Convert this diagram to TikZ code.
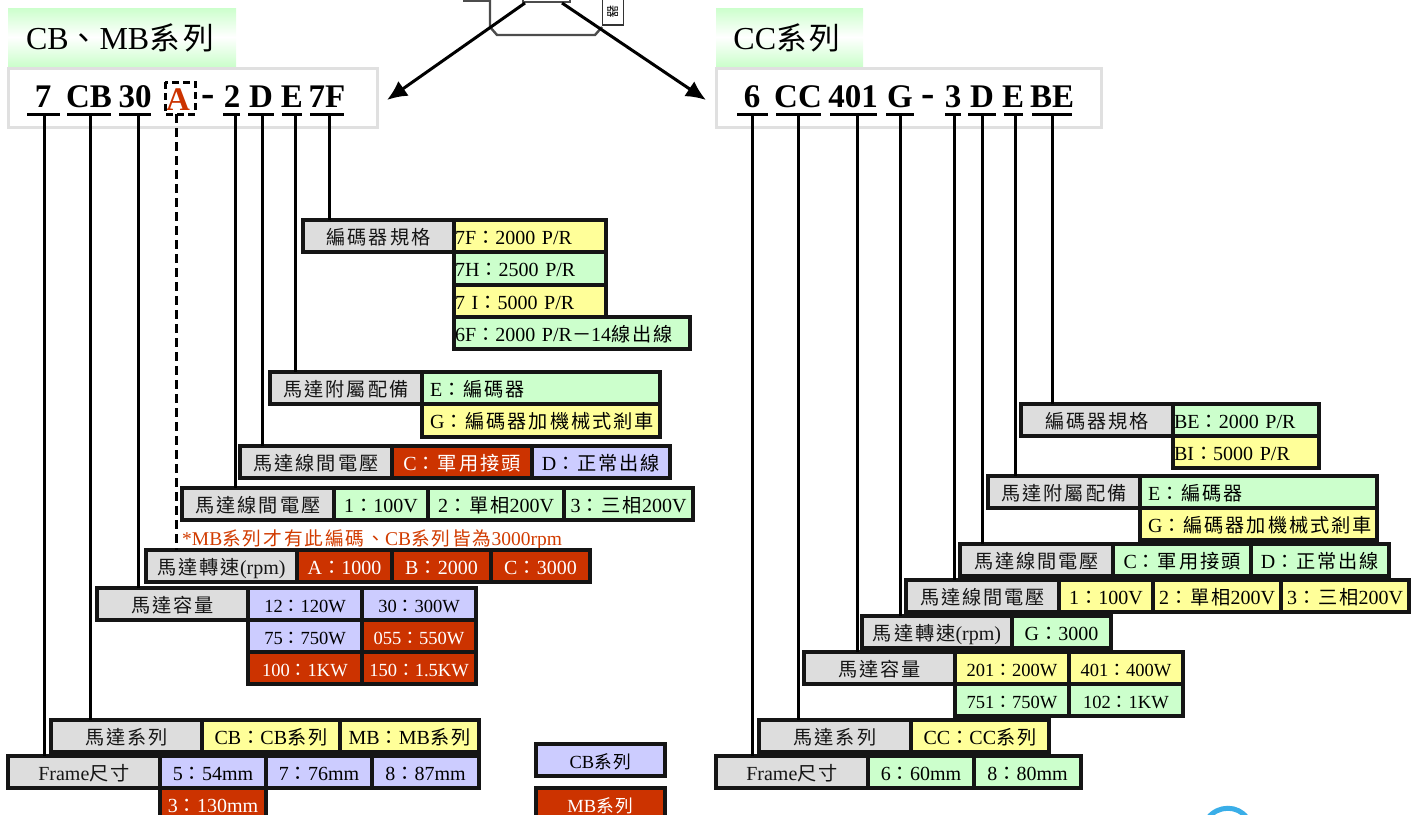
\documentclass[tikz,border=0pt]{standalone}
\usepackage{fontspec}
\setmainfont{Liberation Serif}
\newfontfamily\cjk[LetterSpace=10,Scale=0.96]{Noto Sans CJK TC}
\newcommand{\C}[1]{{\cjk #1}}
\usetikzlibrary{arrows.meta,calc}
\definecolor{gy}{HTML}{DDDDDD}
\definecolor{yw}{HTML}{FFFF99}
\definecolor{gn}{HTML}{CCFFCC}
\definecolor{lv}{HTML}{CCCCFF}
\definecolor{rd}{HTML}{CC3300}
\definecolor{fr}{HTML}{E0E0E0}
\definecolor{ink}{HTML}{151515}
\tikzset{
  cell/.style={draw=ink,line width=3.2pt,inner sep=0pt,outer sep=0pt,font=\fontsize{20}{22}\selectfont,text=black},
  key/.style={cell,fill=gy,text=ink},
  ycell/.style={cell,fill=yw},
  gcell/.style={cell,fill=gn},
  lcell/.style={cell,fill=lv},
  rcell/.style={cell,fill=rd,text=white},
  small/.style={font=\fontsize{18.5}{20}\selectfont},
  lft/.style={text width=\bw pt-#1pt*2,align=left},
  title/.style={inner sep=0pt,outer sep=0pt,font=\fontsize{32}{34}\selectfont,text=black},
  frameb/.style={draw=fr,line width=3pt,fill=white},
  hd/.style={inner sep=0pt,font=\fontsize{33}{36}\bfseries\selectfont},
  dashch/.style={inner sep=0pt,font=\fontsize{40}{40}\bfseries\selectfont},
  conn/.style={line width=3pt,black},
  dconn/.style={line width=3pt,black,dash pattern=on 9pt off 5pt},
  arrowl/.style={line width=3pt,black,-{Latex[length=20pt,width=18pt]}},
  motor/.style={draw=black!70,line width=2.4pt},
  note/.style={inner sep=0pt,anchor=west,text=rd!90!orange,font=\fontsize{19.5}{21}\selectfont},
}
% \bx[style]{name}{x0}{y0}{x1}{y1}{text}
\newcommand{\bx}[7][]{%
  \pgfmathsetmacro{\bw}{#5-#3}\pgfmathsetmacro{\bh}{#6-#4}%
  \node[#1,minimum width=\bw pt,minimum height=\bh pt] (#2) at ({(#3+#5)/2},{(#4+#6)/2}) {\raisebox{-8pt}[0pt][0pt]{#7}};}
\begin{document}
\begin{tikzpicture}[x=1pt,y=-1pt]
\useasboundingbox (0,0) rectangle (1423,814);
\clip (0,0) rectangle (1423,814);
% motor fragment at the top
\draw[motor] (490,0) -- (490,27) -- (497,35) -- (595,35) -- (602,27);
\draw[motor,fill=white] (464,-5) rectangle (490,1);
\draw[motor,fill=white] (523,-5) rectangle (570,2);
\node[draw=black!80,line width=1.8pt,fill=white,minimum width=21pt,minimum height=34pt,inner sep=0pt] (mbox) at (613,8) {\raisebox{-8pt}{\rotatebox{-90}{\fontsize{13}{13}\selectfont\C{器}}}};
\coordinate (as) at (525,3);\coordinate (al) at (387,100);
\coordinate (bs) at (562,3);\coordinate (bl) at (706,100);
\draw[arrowl] (as) -- (al);
\draw[arrowl] (bs) -- (bl);
% left titles
\shade[top color=gn,bottom color=gn,middle color=white] (8,8) rectangle (236,66);
\node[title] (t1) at (120,38) {CB\C{、}MB\C{系列}};
\shade[top color=gn,bottom color=gn,middle color=white] (716,8) rectangle (863,66);
\node[title] (t2) at (787,38) {CC\C{系列}};
\draw[frameb] (8,68) rectangle (377,127);
\draw[frameb] (716,68) rectangle (1101,127);
% left code letters
\node[hd] (h1) at (43,97) {7};
\node[hd] (h2) at (89,97) {CB};
\node[hd] (h3) at (135,97) {30};
\node[hd,text=rd] (h4) at (178,100) {A};
\node[dashch] (h5) at (208,101) {-};
\node[hd] (h6) at (232,97) {2};
\node[hd] (h7) at (261,97) {D};
\node[hd] (h8) at (292,97) {E};
\node[hd] (h9) at (327,97) {7F};
% right code letters
\node[hd] (r1) at (752,97) {6};
\node[hd] (r2) at (798,97) {CC};
\node[hd] (r3) at (853,97) {401};
\node[hd] (r4) at (900,97) {G};
\node[dashch] (r5) at (928,101) {-};
\node[hd] (r6) at (953,97) {3};
\node[hd] (r7) at (982,97) {D};
\node[hd] (r8) at (1013,97) {E};
\node[hd] (r9) at (1052,97) {BE};
% left cells
\bx[key]{a1}{303}{220}{454}{252}{\C{編碼器規格}}
\bx[ycell,lft=1]{a2}{454}{220}{606}{252}{7F\C{：}2000 P/R}
\bx[gcell,lft=1]{a3}{454}{252}{606}{285}{7H\C{：}2500 P/R}
\bx[ycell,lft=1]{a4}{454}{285}{606}{317}{7 I\C{：}5000 P/R}
\bx[gcell,lft=1]{a5}{454}{317}{690}{349}{6F\C{：}2000 P/R\C{－}14\C{線出線}}
\bx[key]{b1}{270}{372}{422}{404}{\C{馬達附屬配備}}
\bx[gcell,lft=8]{b2}{422}{372}{660}{404}{E\C{：編碼器}}
\bx[ycell,lft=8]{b3}{422}{404}{660}{437}{G\C{：編碼器加機械式剎車}}
\bx[key]{c1}{240}{446}{392}{478}{\C{馬達線間電壓}}
\bx[rcell]{c2}{392}{446}{532}{478}{C\C{：軍用接頭}}
\bx[lcell]{c3}{532}{446}{670}{478}{D\C{：正常出線}}
\bx[key]{d1}{182}{488}{334}{520}{\C{馬達線間電壓}}
\bx[gcell]{d2}{334}{488}{428}{520}{1\C{：}100V}
\bx[gcell]{d3}{428}{488}{564}{520}{2\C{：單相}200V}
\bx[gcell]{d4}{564}{488}{693}{520}{3\C{：三相}200V}
\node[note] (nt) at (182,540) {*MB\C{系列才有此編碼、}CB\C{系列皆為}3000rpm};
\bx[key]{e1}{146}{550}{297}{582}{\C{馬達轉速}(rpm)}
\bx[rcell]{e2}{297}{550}{392}{582}{A\C{：}1000}
\bx[rcell]{e3}{392}{550}{491}{582}{B\C{：}2000}
\bx[rcell]{e4}{491}{550}{590}{582}{C\C{：}3000}
\bx[key]{f1}{97}{588}{248}{620}{\C{馬達容量}}
\bx[lcell,small]{f2}{248}{588}{362}{620}{12\C{：}120W}
\bx[lcell,small]{f3}{362}{588}{476}{620}{30\C{：}300W}
\bx[lcell,small]{f4}{248}{620}{362}{652}{75\C{：}750W}
\bx[rcell,small]{f5}{362}{620}{476}{652}{055\C{：}550W}
\bx[rcell,small]{f6}{248}{652}{362}{684}{100\C{：}1KW}
\bx[rcell,small]{f7}{362}{652}{476}{684}{150\C{：}1.5KW}
\bx[key]{g1}{51}{720}{202}{752}{\C{馬達系列}}
\bx[ycell]{g2}{202}{720}{340}{752}{CB\C{：}CB\C{系列}}
\bx[ycell]{g3}{340}{720}{479}{752}{MB\C{：}MB\C{系列}}
\bx[key]{k1}{8}{756}{160}{788}{Frame\C{尺寸}}
\bx[lcell]{k2}{160}{756}{266}{788}{5\C{：}54mm}
\bx[lcell]{k3}{266}{756}{372}{788}{7\C{：}76mm}
\bx[lcell]{k4}{372}{756}{479}{788}{8\C{：}87mm}
\bx[rcell]{k5}{160}{788}{266}{820}{3\C{：}130mm}
\bx[lcell,small]{l1}{536}{744}{665}{776}{CB\C{系列}}
\bx[rcell,small]{l2}{536}{788}{665}{820}{MB\C{系列}}
% right cells
\bx[key]{m1}{1021}{404}{1173}{436}{\C{編碼器規格}}
\bx[gcell,lft=1]{m2}{1173}{404}{1319}{436}{BE\C{：}2000 P/R}
\bx[ycell,lft=1]{m3}{1173}{436}{1319}{468}{BI\C{：}5000 P/R}
\bx[key]{n1}{988}{476}{1140}{508}{\C{馬達附屬配備}}
\bx[gcell,lft=8]{n2}{1140}{476}{1377}{508}{E\C{：編碼器}}
\bx[ycell,lft=8]{n3}{1140}{508}{1377}{540}{G\C{：編碼器加機械式剎車}}
\bx[key]{o1}{960}{544}{1113}{576}{\C{馬達線間電壓}}
\bx[gcell]{o2}{1113}{544}{1251}{576}{C\C{：軍用接頭}}
\bx[gcell]{o3}{1251}{544}{1389}{576}{D\C{：正常出線}}
\bx[key]{p1}{906}{580}{1059}{612}{\C{馬達線間電壓}}
\bx[ycell]{p2}{1059}{580}{1153}{612}{1\C{：}100V}
\bx[ycell]{p3}{1153}{580}{1281}{612}{2\C{：單相}200V}
\bx[ycell]{p4}{1281}{580}{1409}{612}{3\C{：三相}200V}
\bx[key]{q1}{862}{616}{1012}{648}{\C{馬達轉速}(rpm)}
\bx[gcell]{q2}{1012}{616}{1111}{648}{G\C{：}3000}
\bx[key]{s1}{804}{652}{955}{684}{\C{馬達容量}}
\bx[ycell,small]{s2}{955}{652}{1069}{684}{201\C{：}200W}
\bx[ycell,small]{s3}{1069}{652}{1183}{684}{401\C{：}400W}
\bx[gcell,small]{s4}{955}{684}{1069}{716}{751\C{：}750W}
\bx[gcell,small]{s5}{1069}{684}{1183}{716}{102\C{：}1KW}
\bx[key]{u1}{759}{720}{911}{752}{\C{馬達系列}}
\bx[ycell]{u2}{911}{720}{1049}{752}{CC\C{：}CC\C{系列}}
\bx[key]{v1}{716}{756}{868}{788}{Frame\C{尺寸}}
\bx[gcell]{v2}{868}{756}{974}{788}{6\C{：}60mm}
\bx[gcell]{v3}{974}{756}{1081}{788}{8\C{：}80mm}
% underlines and their drops: left
\foreach \n/\a/\b/\c/\tg in {A/27/60/44/k1,B/67/111/90/g1,C/119/151/138/f1,E/223/240/235/d1,F/248/274/262/c1,G/282/302/295/b1,H/310/344/329/a1}{
  \coordinate (\n l) at (\a,114);\coordinate (\n r) at (\b,114);\coordinate (\n t) at (\c,114);
  \draw[conn] (\n l) -- (\n r);
  \draw[conn] (\n t) -- (\n t |- \tg.north);
}
% underlines and their drops: right
\foreach \n/\a/\b/\c/\tg in {J/737/768/752/v1,K/776/821/798/u1,L/830/877/857/s1,M/886/914/900/q1,N/945/961/954/p1,O/968/996/982/o1,P/1004/1023/1015/n1,Q/1032/1072/1052/m1}{
  \coordinate (\n l) at (\a,114);\coordinate (\n r) at (\b,114);\coordinate (\n t) at (\c,114);
  \draw[conn] (\n l) -- (\n r);
  \draw[conn] (\n t) -- (\n t |- \tg.north);
}
% dashed marker round A
\coordinate (Dt) at (176,114);
\draw[dconn,dash pattern=on 7pt off 4pt] (165,82) rectangle (195,114);
\draw[dconn] (Dt) -- (Dt |- e1.north);
% partial logo at the lower edge
\draw[line width=5pt,color={rgb,255:red,58;green,174;blue,232}] (1208,818) .. controls (1218,805) and (1238,805) .. (1247,818);
\end{tikzpicture}
\end{document}
